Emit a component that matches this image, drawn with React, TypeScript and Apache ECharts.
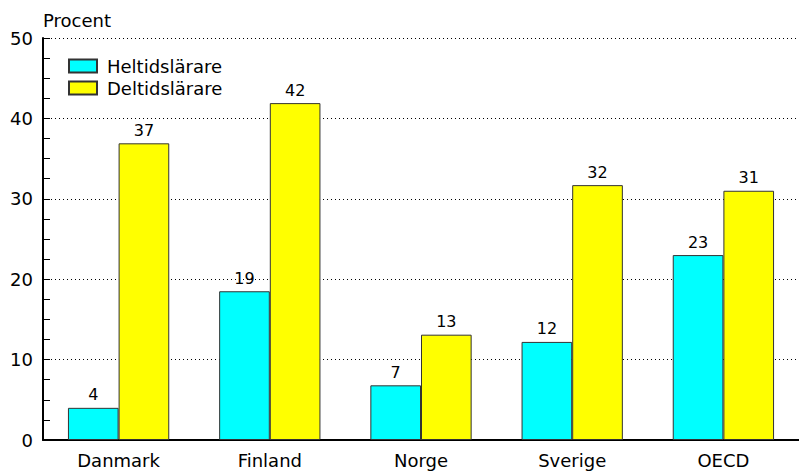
import React, { useEffect, useRef } from "react";
import * as echarts from "echarts";

const categories = ["Danmark", "Finland", "Norge", "Sverige", "OECD"];
const heltid = [4.0, 18.5, 6.8, 12.2, 23.0];
const deltid = [36.9, 41.9, 13.1, 31.7, 31.0];
const seriesNames = ["Heltidslärare", "Deltidslärare"];

const FONT = "'DejaVu Sans', sans-serif";

export default function App() {
  const ref = useRef<HTMLDivElement>(null);
  useEffect(() => {
    const chart = echarts.init(ref.current!, null, { renderer: "svg" });
    const label = {
      show: true,
      position: "top" as const,
      distance: 5,
      color: "#000",
      fontFamily: FONT,
      fontSize: 16,
      formatter: (p: any) => String(Math.round(p.value)),
    };
    chart.setOption({
      animation: false,
      textStyle: { fontFamily: FONT },
      grid: { left: 43, right: -6, top: 38, bottom: 34, containLabel: false },
      legend: {
        orient: "vertical",
        left: 63,
        top: 52,
        itemWidth: 28,
        itemHeight: 13,
        itemGap: 4,
        icon: "rect",
        textStyle: { fontFamily: FONT, fontSize: 18, color: "#000", padding: [0, 0, 0, 5] },
        data: seriesNames,
      },
      xAxis: {
        type: "category",
        data: categories,
        axisLine: { lineStyle: { color: "#000", width: 2 } },
        axisTick: { show: false },
        axisLabel: { color: "#000", fontSize: 18, fontFamily: FONT, margin: 11 },
      },
      yAxis: [
        {
          type: "value",
          min: 0,
          max: 50,
          interval: 10,
          name: "Procent",
          nameLocation: "end",
          nameGap: 9,
          nameTextStyle: { color: "#000", fontSize: 18, fontFamily: FONT, align: "left", padding: [0, 0, 0, 0] },
          axisLine: { show: true, lineStyle: { color: "#000", width: 2 } },
          axisTick: { show: false },
          axisLabel: { color: "#000", fontSize: 18, fontFamily: FONT, margin: 10 },
          splitLine: { show: true, lineStyle: { color: "#000", type: [1, 3], width: 1 } },
        },
        {
          type: "value",
          position: "left",
          min: 0,
          max: 50,
          interval: 2.5,
          axisLine: { show: false },
          axisTick: { show: true, inside: true, length: 7, lineStyle: { color: "#000", width: 1 } },
          axisLabel: { show: false },
          splitLine: { show: false },
        },
      ],
      series: [
        {
          name: seriesNames[0],
          type: "bar",
          data: heltid,
          barGap: "0%",
          barCategoryGap: "33%",
          itemStyle: { color: "#00ffff", borderColor: "#333", borderWidth: 1 },
          label,
        },
        {
          name: seriesNames[1],
          type: "bar",
          data: deltid,
          barGap: "0%",
          barCategoryGap: "33%",
          itemStyle: { color: "#ffff00", borderColor: "#333", borderWidth: 1 },
          label,
        },
      ],
    });
    return () => chart.dispose();
  }, []);
  return <div ref={ref} style={{ width: 799, height: 474, position: "absolute", left: 0, top: 0 }} />;
}
